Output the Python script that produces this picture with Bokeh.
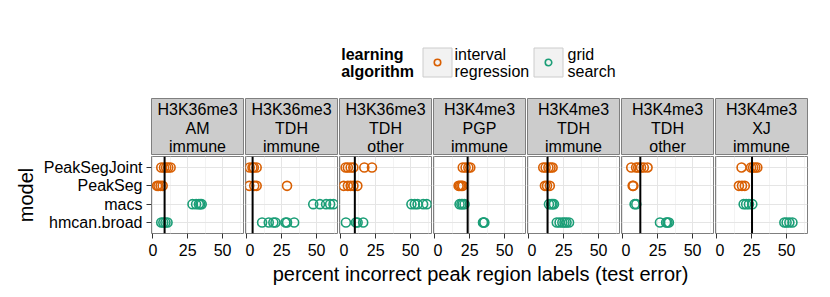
from bokeh.plotting import figure
from bokeh.models import Range1d, FactorRange, FixedTicker, Span, ColumnDataSource
from bokeh.layouts import column, row
from bokeh.embed import file_html
from bokeh.resources import INLINE
from bokeh.core.properties import value

FONT = "Liberation Sans"
ORANGE = "#D95F02"
GREEN = "#1B9E77"

# ---------------- data ----------------
models = ["PeakSegJoint", "PeakSeg", "macs", "hmcan.broad"]
facets = [
    "H3K36me3\nAM\nimmune",
    "H3K36me3\nTDH\nimmune",
    "H3K36me3\nTDH\nother",
    "H3K4me3\nPGP\nimmune",
    "H3K4me3\nTDH\nimmune",
    "H3K4me3\nTDH\nother",
    "H3K4me3\nXJ\nimmune",
]
baseline = [8.4, 4.1, 10.0, 23.5, 13.4, 12.5, 25.2]

# interval regression models
peaksegjoint = [
    [6, 8, 9.5, 11, 12.7],
    [2, 4, 5, 7],
    [3.4, 5, 7, 8.9, 16.8, 22.3],
    [20, 22, 24, 25.4],
    [10.3, 12, 14, 15.5, 17],
    [6, 9.5, 11, 13, 15, 17.7],
    [17.7, 24.5, 26, 27.5, 29],
]
peakseg = [
    [3, 4, 5.5, 7],
    [1.7, 5.3, 7, 28.8],
    [2, 5, 7, 9, 11.8],
    [17, 18, 19, 20],
    [11.5, 13, 15],
    [7, 7.5],
    [15.8, 18, 20],
]
# grid search models
macs = [
    [28.4, 31, 33, 34, 35],
    [47.6, 52.4, 56.8, 59.7, 62.1],
    [50.6, 53, 55, 59, 61.6],
    [17.7, 19, 20, 21.3],
    [14.4, 16, 17, 18],
    [8.4, 9.6],
    [19.2, 21, 23, 25.4],
]
hmcan_broad = [
    [6, 7.5, 9, 10.5],
    [10.9, 15.7, 19, 20.5, 27.7, 28.8, 33.9],
    [3.6, 10.8, 12, 16],
    [34.5, 35, 35.5],
    [20, 22, 24, 25.5, 27, 28.8],
    [26.6, 31, 32, 33],
    [48.4, 50, 52, 54.2],
]
x_ticks = [0, 25, 50]
legend_labels = ["interval\nregression", "grid\nsearch"]

# ---------------- layout constants ----------------
M = 8            # page margin offset
LEFT = 143 + M
FW = 92
GAP = 2
TOTAL_W = LEFT + (FW + GAP) * len(facets)


def base_fig(i, **kw):
    p = figure(frame_width=FW, min_border=0,
               min_border_left=(LEFT if i == 0 else 0), min_border_right=GAP,
               output_backend="svg", toolbar_location=None, **kw)
    p.border_fill_color = "white"
    return p


strips = []
panels = []
for i, lab in enumerate(facets):
    # strip
    s = base_fig(i, frame_height=57, x_range=Range1d(0, 1), y_range=Range1d(0, 1))
    s.axis.visible = False
    s.grid.visible = False
    s.background_fill_color = "#CCCCCC"
    s.outline_line_color = "#7F7F7F"
    s.text(x=[0.5], y=[0.48], text=[lab], text_align="center", text_baseline="middle",
           text_font=value(FONT), text_font_size="16px", text_color="black",
           text_line_height=1.1)
    strips.append(s)

    # panel
    yr = FactorRange(*models[::-1], range_padding=0.1, range_padding_units="absolute")
    p = base_fig(i, frame_height=77, x_range=Range1d(-1, 65), y_range=yr)
    p.min_border_top = 1
    p.min_border_bottom = 29
    p.background_fill_color = "white"
    p.outline_line_color = "#7F7F7F"
    p.outline_line_width = 1

    p.xaxis.ticker = FixedTicker(ticks=x_ticks, minor_ticks=[12.5, 37.5, 62.5])
    p.xgrid.grid_line_color = "#E5E5E5"
    p.xgrid.minor_grid_line_color = "#F3F3F3"
    p.ygrid.grid_line_color = "#E5E5E5"
    for ax in (p.xaxis, p.yaxis):
        ax.axis_line_color = None
        ax.major_tick_out = 5
        ax.major_tick_in = 0
        ax.minor_tick_out = 0
        ax.minor_tick_in = 0
        ax.major_tick_line_color = "#333333"
        ax.major_label_text_font = FONT
        ax.major_label_text_font_size = "16px"
        ax.major_label_text_color = "black"
    p.xaxis.major_label_standoff = 5
    p.yaxis.major_label_standoff = 4
    if i == 0:
        p.yaxis.axis_label = "model"
        p.yaxis.axis_label_text_font = FONT
        p.yaxis.axis_label_text_font_size = "20px"
        p.yaxis.axis_label_text_font_style = "normal"
        p.yaxis.axis_label_text_color = "black"
        p.yaxis.axis_label_standoff = 4
    else:
        p.yaxis.visible = False

    p.add_layout(Span(location=baseline[i], dimension="height", line_color="black", line_width=2))

    for vals, name, col in ((peaksegjoint[i], models[0], ORANGE), (peakseg[i], models[1], ORANGE),
                            (macs[i], models[2], GREEN), (hmcan_broad[i], models[3], GREEN)):
        src = ColumnDataSource(dict(x=vals, y=[name] * len(vals)))
        p.scatter("x", "y", source=src, size=9, marker="circle", fill_color=None,
                  line_color=col, line_width=1.6)
    panels.append(p)

# ---------------- legend ----------------
LH = 90 + M
lg = figure(width=TOTAL_W, height=LH, x_range=Range1d(0, TOTAL_W), y_range=Range1d(LH, 0),
            min_border=0, output_backend="svg", toolbar_location=None)
lg.axis.visible = False
lg.grid.visible = False
lg.outline_line_color = None
lg.text(x=[340.7], y=[62], text=["learning\nalgorithm"], text_align="left", text_baseline="middle",
        text_font=value(FONT), text_font_size="16px", text_font_style="bold", text_color="black",
        text_line_height=1.0)
key_x = [437, 548]
lg.rect(x=key_x, y=[62, 62], width=29, height=29, fill_color="#F2F2F2", line_color="#CCCCCC",
        line_width=1)
lg.scatter(x=key_x, y=[62, 62], size=6.5, marker="circle", fill_color=None,
           line_color=[ORANGE, GREEN], line_width=1.6)
lg.text(x=[454, 567], y=[62, 62], text=legend_labels, text_align="left", text_baseline="middle",
        text_font=value(FONT), text_font_size="16px", text_color="black", text_line_height=1.0)

# ---------------- x axis title ----------------
xt = figure(width=TOTAL_W, height=25, x_range=Range1d(0, TOTAL_W), y_range=Range1d(25, 0),
            min_border=0, output_backend="svg", toolbar_location=None)
xt.axis.visible = False
xt.grid.visible = False
xt.outline_line_color = None
xt.text(x=[LEFT + (FW + GAP) * len(facets) / 2], y=[11],
        text=["percent incorrect peak region labels (test error)"],
        text_align="center", text_baseline="middle", text_font=value(FONT),
        text_font_size="20px", text_color="black")

layout = column(lg, row(*strips, spacing=0), row(*panels, spacing=0), xt, spacing=0)
open("out.html", "w").write(file_html(layout, INLINE))
